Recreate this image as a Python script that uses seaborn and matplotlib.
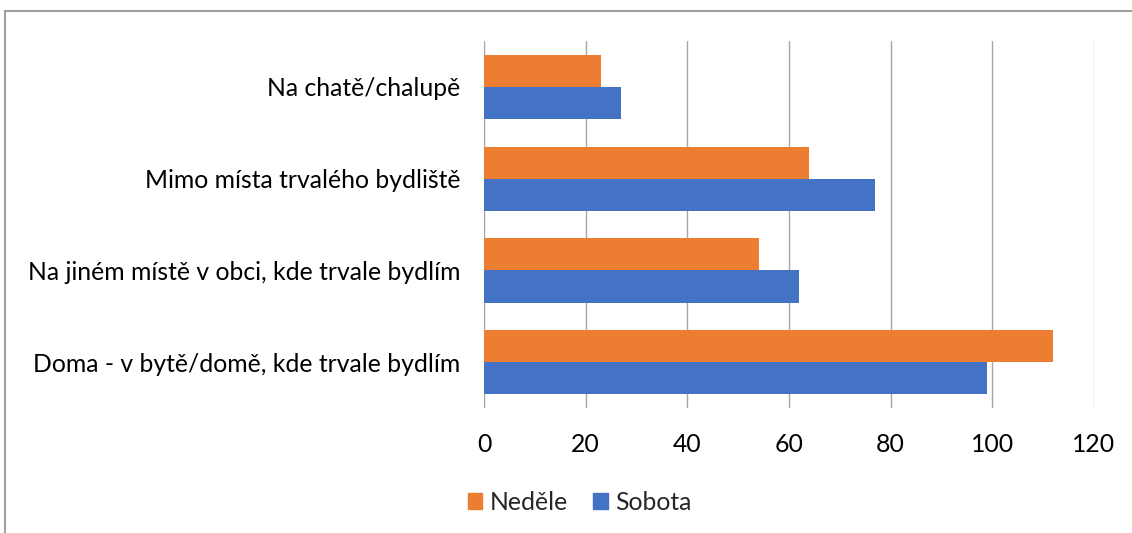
import pandas as pd
import matplotlib
matplotlib.use("Agg")
import matplotlib.pyplot as plt
from matplotlib.patches import Rectangle
import seaborn as sns

## Data ##
categories = ["Na chatě/chalupě",
              "Mimo místa trvalého bydliště",
              "Na jiném místě v obci, kde trvale bydlím",
              "Doma - v bytě/domě, kde trvale bydlím"]
nedele = [23, 64, 54, 112]
sobota = [27, 77, 62, 99]
series = ["Neděle", "Sobota"]
xticks = [0, 20, 40, 60, 80, 100, 120]

df = pd.DataFrame({"misto": categories * 2,
                   "den": [series[0]] * 4 + [series[1]] * 4,
                   "pocet": nedele + sobota})

sns.set_theme(style="white")
plt.rcParams['font.family'] = ['Lato', 'DejaVu Sans']

fig = plt.figure(figsize=(11.32, 5.33), dpi=100)
ax = fig.add_axes([0.4276, 0.2345, 0.5388, 0.6885])

sns.barplot(data=df, y="misto", x="pocet", hue="den", hue_order=series,
            order=categories, orient="h", width=0.7,
            palette=["#ED7D31", "#4472C4"], saturation=1, ax=ax,
            edgecolor="none", legend=True)

ax.set_xlim(0, 120)
ax.set_xticks(xticks)
ax.xaxis.grid(True, color="#a6a6a6", linewidth=1)
ax.set_axisbelow(True)
for s in ax.spines.values():
    s.set_visible(False)
ax.set_xlabel("")
ax.set_ylabel("")
ax.tick_params(axis="x", labelsize=17.8, pad=18, length=0, colors="black")
ax.tick_params(axis="y", labelsize=17.8, pad=17, length=0, colors="black")

ax.legend_.remove()
handles = [Rectangle((0, 0), 1, 1, color="#ED7D31"), Rectangle((0, 0), 1, 1, color="#4472C4")]
fig.legend(handles, series, loc="center", bbox_to_anchor=(0.512, 0.058), ncol=2,
           frameon=False, fontsize=17.8, handlelength=0.6, handleheight=0.6,
           handletextpad=0.3, columnspacing=1.0)

# chart frame (only left/top edges visible)
fig.patches.append(Rectangle((4.5 / 1132, -0.1), 1.1, 1.1 - 11.5 / 533,
                             transform=fig.transFigure, fill=False,
                             edgecolor="#a0a0a0", linewidth=1.5))

fig.savefig("out.png", dpi=100)
